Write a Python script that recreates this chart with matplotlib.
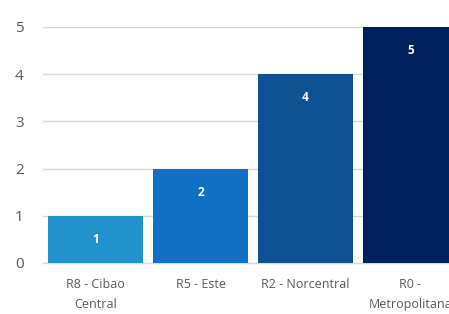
import matplotlib
matplotlib.use("Agg")
import matplotlib.pyplot as plt

regiones = ["R8 - Cibao\nCentral", "R5 - Este", "R2 - Norcentral", "R0 -\nMetropolitana"]
valores = [1, 2, 4, 5]
colores = ["#2192CB", "#1170C6", "#0F5294", "#01205E"]

plt.rcParams['font.family'] = ['Open Sans', 'DejaVu Sans']

fig = plt.figure(figsize=(4.49, 3.14), dpi=100)
ax = fig.add_axes([43 / 449, 51 / 314, 420 / 449, 236 / 314])

x = range(len(valores))
bars = ax.bar(x, valores, width=0.91, color=colores, zorder=3)

for b, v in zip(bars, valores):
    ax.text(b.get_x() + b.get_width() / 2, v - 0.5, str(v), ha='center', va='center',
            color='white', fontsize=8.5, fontweight='bold', zorder=4)

ax.set_xlim(-0.5, 3.5)
ax.set_ylim(0, 5)
ax.set_yticks(range(6))
ax.set_xticks(list(x))
ax.set_xticklabels(regiones, fontsize=9, color='#595959', linespacing=1.7)
ax.tick_params(axis='y', labelsize=11, labelcolor='#595959', length=0, pad=14)
ax.tick_params(axis='x', length=0, pad=11)
ax.grid(axis='y', color='#D9D9D9', linewidth=1, zorder=0)
for s in ['top', 'right', 'left']:
    ax.spines[s].set_visible(False)
ax.spines['bottom'].set_color('#D9D9D9')
ax.spines['bottom'].set_linewidth(1)

fig.savefig("out.png", dpi=100)
